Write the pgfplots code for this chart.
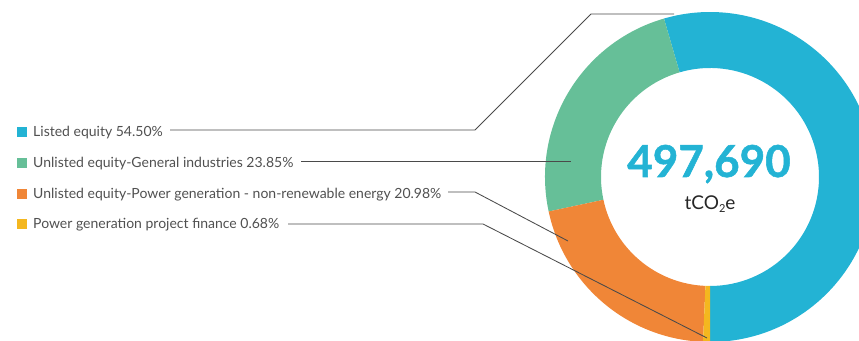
\documentclass[border=0pt]{standalone}
\usepackage{pgfplots}
\pgfplotsset{compat=1.18}
\usepackage{fontspec}
\setmainfont{Lato}
\newfontfamily\numfont[FakeBold=1.2]{Lato}
\definecolor{cblue}{HTML}{23B3D4}
\definecolor{cgreen}{HTML}{66BF98}
\definecolor{corange}{HTML}{F08637}
\definecolor{cyellow}{HTML}{F4B71F}
\definecolor{txtgray}{HTML}{505050}
\definecolor{linegray}{HTML}{4A4A4A}
% shares (%) of the four slices
\def\pA{54.50}\def\pB{23.85}\def\pC{20.98}\def\pD{0.68}
\newcommand{\slice}[3]{\fill[#3] (axis cs:710,163) ++(#1:165pt) arc[start angle=#1, end angle=#2, radius=165pt] -- ++(#2+180:56pt) arc[start angle=#2, end angle=#1, radius=109pt] -- cycle;}
\begin{document}
\begin{tikzpicture}
\pgfmathsetmacro{\aA}{270}
\pgfmathsetmacro{\aB}{\aA+3.6*\pA}
\pgfmathsetmacro{\aC}{\aB+3.6*\pB}
\pgfmathsetmacro{\aD}{\aC+3.6*\pC}
\pgfmathsetmacro{\aE}{\aD+3.6*\pD}
\begin{axis}[width=859pt,height=340pt,scale only axis,
  xmin=0,xmax=859,ymin=0,ymax=340,hide axis,clip=true]
\path (rel axis cs:0,0) rectangle (rel axis cs:1,1);
\slice{\aA}{\aB}{cblue}
\slice{\aB}{\aC}{cgreen}
\slice{\aC}{\aD}{corange}
\slice{\aD}{\aE}{cyellow}
% leader lines
\draw[linegray,line width=0.85pt] (axis cs:170,210) -- (axis cs:475,210) -- (axis cs:591,326) -- (axis cs:674,326);
\draw[linegray,line width=0.85pt] (axis cs:301,179) -- (axis cs:571,179);
\draw[linegray,line width=0.85pt] (axis cs:448,148) -- (axis cs:475,148) -- (axis cs:568,99);
\draw[linegray,line width=0.85pt] (axis cs:288,116) -- (axis cs:483,116) -- (axis cs:707,2);
% legend
\fill[cblue]   (axis cs:17,203) rectangle (axis cs:27,213);
\fill[cgreen]  (axis cs:17,172) rectangle (axis cs:27,182);
\fill[corange] (axis cs:17,141) rectangle (axis cs:27,151);
\fill[cyellow] (axis cs:17,111) rectangle (axis cs:27,121);
\node[anchor=base west,inner sep=0pt,text=txtgray,font=\fontsize{14}{14}\selectfont] at (axis cs:33,203) {Listed equity 54.50\%};
\node[anchor=base west,inner sep=0pt,text=txtgray,font=\fontsize{14}{14}\selectfont] at (axis cs:33,172) {Unlisted equity-General industries 23.85\%};
\node[anchor=base west,inner sep=0pt,text=txtgray,font=\fontsize{14}{14}\selectfont] at (axis cs:33,141) {Unlisted equity-Power generation - non-renewable energy 20.98\%};
\node[anchor=base west,inner sep=0pt,text=txtgray,font=\fontsize{14}{14}\selectfont] at (axis cs:33,111) {Power generation project finance 0.68\%};
% centre
\node[anchor=base,inner sep=0pt,text=cblue,font=\numfont\bfseries\fontsize{44}{44}\selectfont] at (axis cs:709,163) {497,690};
\node[anchor=base,inner sep=0pt,text=black!85,font=\fontsize{19}{19}\selectfont] at (axis cs:710,130) {tCO\raisebox{-0.25ex}{\fontsize{11}{11}\selectfont 2}e};
\end{axis}
\pgfresetboundingbox
\path[use as bounding box] (current axis.south west) rectangle (current axis.north east);
\end{tikzpicture}
\end{document}
